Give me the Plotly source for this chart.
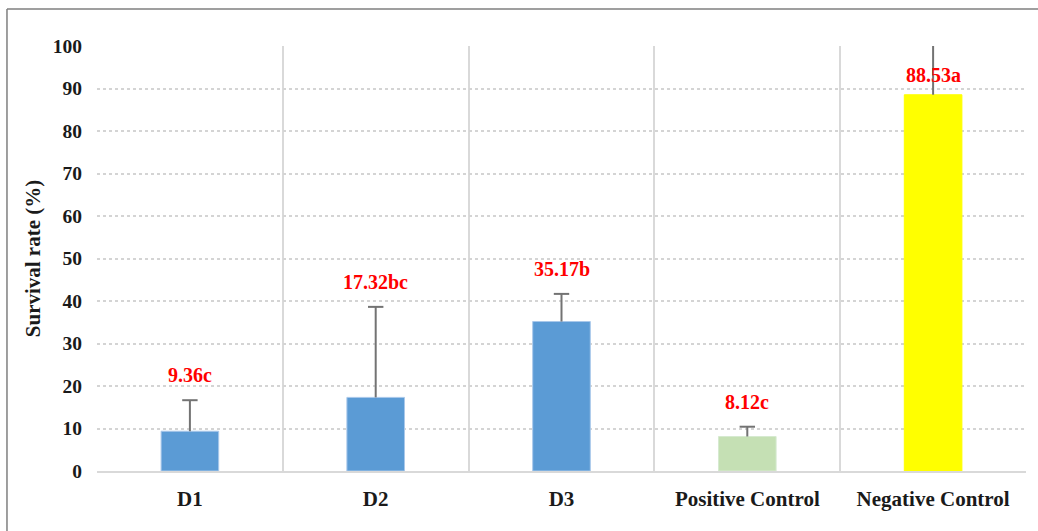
import plotly.graph_objects as go

# Survival rate per treatment (mean and upper error), with significance letters
categories = ["D1", "D2", "D3", "Positive Control", "Negative Control"]
survival = [9.36, 17.32, 35.17, 8.12, 88.53]
error_up = [7.3, 21.3, 6.5, 2.3, 15.0]
letters = ["c", "bc", "b", "c", "a"]
bar_colors = ["#5b9bd5", "#5b9bd5", "#5b9bd5", "#c5e0b4", "#ffff00"]
edge_colors = ["#a9c8ea", "#a9c8ea", "#a9c8ea", "#d6ead0", "#ffff00"]
y_ticks = [0, 10, 20, 30, 40, 50, 60, 70, 80, 90, 100]

SERIF = "Liberation Serif, Times New Roman, serif"
Y_MAX = 100
ERR_COLOR = "#737373"

fig = go.Figure()

# bars with one-sided error stems (caps added separately so none sits on the bar top)
fig.add_trace(
    go.Bar(
        x=categories,
        y=survival,
        width=0.31,
        marker=dict(color=bar_colors, line=dict(color=edge_colors, width=1)),
        error_y=dict(
            type="data",
            symmetric=False,
            array=error_up,
            arrayminus=[0] * len(error_up),
            color=ERR_COLOR,
            thickness=2,
            width=0,
        ),
        hoverinfo="skip",
    )
)

# error caps at the upper end only
fig.add_trace(
    go.Scatter(
        x=categories,
        y=[v + e for v, e in zip(survival, error_up)],
        mode="markers",
        marker=dict(symbol="line-ew", size=11, color=ERR_COLOR,
                    line=dict(color=ERR_COLOR, width=2)),
        hoverinfo="skip",
        cliponaxis=True,
    )
)

# value labels sit above the error cap, or above the bar when the cap leaves the axis
for cat, val, err, let in zip(categories, survival, error_up, letters):
    inside = val + err < Y_MAX
    fig.add_annotation(
        x=cat,
        y=val + err if inside else val,
        text=f"<b>{val:.2f}{let}</b>",
        showarrow=False,
        yanchor="middle",
        yshift=25 if inside else 20,
        font=dict(family=SERIF, size=20, color="#ff0000"),
    )

# outer chart frame
frame = dict(color="#7f7f7f", width=1.5)
fig.add_shape(type="line", xref="paper", yref="paper",
              x0=-0.0969, x1=1.02, y0=1.087, y1=1.087, line=frame)
fig.add_shape(type="line", xref="paper", yref="paper",
              x0=-0.0969, x1=-0.0969, y0=1.087, y1=-0.16, line=frame)

fig.update_layout(
    width=1038,
    height=531,
    margin=dict(l=97, r=12, t=46, b=60),
    paper_bgcolor="white",
    plot_bgcolor="white",
    showlegend=False,
    font=dict(family=SERIF, color="#1a1a1a"),
    xaxis=dict(
        type="category",
        range=[-0.5, 4.5],
        tickson="boundaries",
        showgrid=True,
        gridcolor="#d9d9d9",
        gridwidth=2,
        showline=True,
        linecolor="#d9d9d9",
        linewidth=2,
        ticks="",
        ticklabelstandoff=8,
        tickfont=dict(family=SERIF, size=21, color="#1a1a1a", weight="bold"),
    ),
    yaxis=dict(
        range=[0, Y_MAX],
        tickvals=y_ticks,
        showgrid=True,
        gridcolor="#d4d4d4",
        gridwidth=1.5,
        griddash="dot",
        zeroline=False,
        showline=False,
        ticks="",
        ticklabelstandoff=14,
        tickfont=dict(family=SERIF, size=19.5, color="#1a1a1a", weight="bold"),
        title=dict(
            text="<b>Survival rate (%)</b>",
            font=dict(family=SERIF, size=21, color="#1a1a1a"),
            standoff=6,
        ),
    ),
)

fig.write_html("out.html")
